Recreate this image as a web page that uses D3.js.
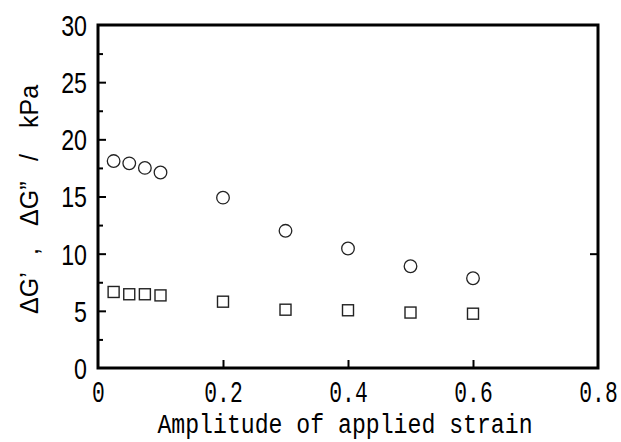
<!DOCTYPE html>
<html><head><meta charset="utf-8">
<script src="https://cdn.jsdelivr.net/npm/d3@7"></script>
<style>html,body{margin:0;padding:0;background:#fff;}</style>
</head><body>
<svg id="c" width="621" height="442"></svg>
<script>
const strain = [0.025, 0.05, 0.075, 0.1, 0.2, 0.3, 0.4, 0.5, 0.6];
const dG2 = [18.1, 17.9, 17.5, 17.1, 14.9, 12.0, 10.45, 8.9, 7.85];
const dG1 = [6.65, 6.45, 6.45, 6.35, 5.8, 5.1, 5.05, 4.85, 4.75];
const xTicks = [0, 0.2, 0.4, 0.6, 0.8];
const xTickLabels = ["0", "0.2", "0.4", "0.6", "0.8"];
const yTicks = [0, 5, 10, 15, 20, 25, 30];
const yMinor = [2.5, 7.5, 12.5, 17.5, 22.5, 27.5];
const xTitle = "Amplitude of applied strain";
const yTitleParts = ["ΔG’", ",", "ΔG”", "/", "kPa"];

const L = 98, R = 598, T = 25, B = 368;
const svg = d3.select("#c");
const x = d3.scaleLinear().domain([0, 0.8]).range([L, R]);
const y = d3.scaleLinear().domain([0, 30]).range([B, T]);

// left axis
const gl = svg.append("g").attr("transform", `translate(${L},0)`)
  .call(d3.axisLeft(y).tickValues(yTicks).tickSize(-8).tickFormat(d3.format("d")));
gl.select(".domain").remove();
gl.selectAll(".tick line").attr("stroke", "#000").attr("stroke-width", 2);
gl.selectAll(".tick text")
  .attr("font-family", "'Liberation Sans', Arial, sans-serif")
  .attr("font-size", 29).attr("fill", "#000").attr("dy", "0.36em")
  .attr("x", 0).attr("transform", "translate(-11,0) scale(0.8,1)");
gl.selectAll(".tick").filter(d => d === 0 || d === 30).select("line").remove();

const gm = svg.append("g").attr("transform", `translate(${L},0)`)
  .call(d3.axisLeft(y).tickValues(yMinor).tickSize(-5).tickFormat(""));
gm.select(".domain").remove();
gm.selectAll(".tick line").attr("stroke", "#000").attr("stroke-width", 2);

// right axis
const gr = svg.append("g").attr("transform", `translate(${R},0)`)
  .call(d3.axisRight(y).tickValues([10]).tickSize(-8).tickFormat(""));
gr.select(".domain").remove();
gr.selectAll(".tick line").attr("stroke", "#000").attr("stroke-width", 2);

// bottom axis
const gb = svg.append("g").attr("transform", `translate(0,${B})`)
  .call(d3.axisBottom(x).tickValues(xTicks).tickSize(-8)
    .tickFormat((d, i) => xTickLabels[i]));
gb.select(".domain").remove();
gb.selectAll(".tick line").attr("stroke", "#000").attr("stroke-width", 2);
gb.selectAll(".tick").filter(d => d === 0 || d === 0.8).select("line").remove();
gb.selectAll(".tick text")
  .attr("font-family", "'Liberation Mono', 'DejaVu Sans Mono', monospace")
  .attr("font-size", 30).attr("fill", "#000").attr("dy", null).attr("y", 0)
  .attr("transform", "translate(0,34) scale(0.71,1)");

// frame
svg.append("rect").attr("x", L).attr("y", T).attr("width", R - L).attr("height", B - T)
  .attr("fill", "none").attr("stroke", "#000").attr("stroke-width", 3);

// markers
svg.append("g").selectAll("circle").data(strain).join("circle")
  .attr("cx", d => x(d)).attr("cy", (d, i) => y(dG2[i])).attr("r", 6.3)
  .attr("fill", "#fff").attr("stroke", "#222").attr("stroke-width", 1.3);
const s = 11;
svg.append("g").selectAll("rect").data(strain).join("rect")
  .attr("x", d => x(d) - s / 2).attr("y", (d, i) => y(dG1[i]) - s / 2)
  .attr("width", s).attr("height", s)
  .attr("fill", "#fff").attr("stroke", "#222").attr("stroke-width", 1.4);

// titles
svg.append("text").attr("transform", "translate(345,433) scale(0.827,1)")
  .attr("text-anchor", "middle")
  .attr("font-family", "'Liberation Mono', 'DejaVu Sans Mono', monospace")
  .attr("font-size", 28).attr("fill", "#000")
  .text(xTitle);

const yPos = [314, 255, 226, 161, 128];
const yt = svg.append("text").attr("transform", "translate(38,0) rotate(-90)")
  .attr("font-family", "'Liberation Sans', Arial, sans-serif")
  .attr("font-size", 25).attr("fill", "#000");
yt.selectAll("tspan").data(yTitleParts).join("tspan")
  .attr("x", (d, i) => -yPos[i]).text(d => d);
</script>
</body></html>
